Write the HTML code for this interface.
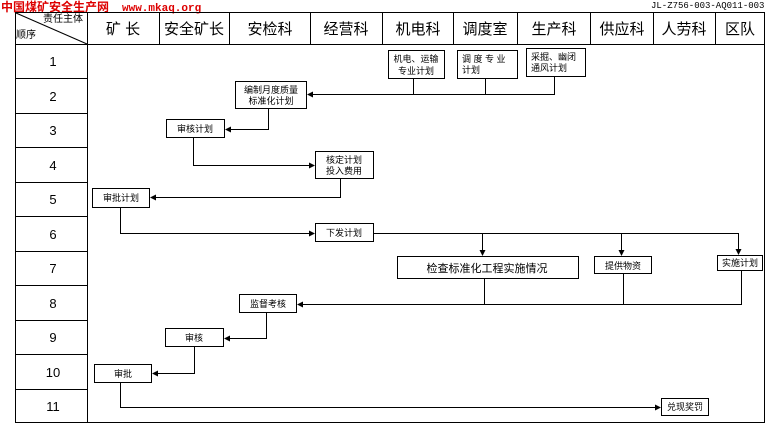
<!DOCTYPE html>
<html><head><meta charset="utf-8"><style>
body{margin:0;background:#fff;width:772px;height:428px;overflow:hidden}
svg{display:block}
text{font-family:"Liberation Sans","Noto Sans CJK SC",sans-serif;fill:#000}
.b{font-size:9px}
</style></head><body>
<svg width="772" height="428" xmlns="http://www.w3.org/2000/svg">
<defs><marker id="a" markerWidth="6" markerHeight="6" refX="5" refY="3" orient="auto" markerUnits="userSpaceOnUse"><path d="M0,0L6,3L0,6z" fill="#000"/></marker></defs>
<text x="1" y="11" style="font-size:12px;font-weight:bold;fill:#d00">中国煤矿安全生产网</text>
<text x="122" y="11" style="font-size:11px;font-weight:bold;fill:#d00;font-family:'Liberation Mono',monospace">www.mkaq.org</text>
<text x="651" y="8" style="font-size:9px;font-family:'Liberation Mono',monospace">JL-Z756-003-AQ011-003</text>
<g stroke="#000" fill="none" stroke-width="1">
<rect x="15.5" y="12.5" width="749" height="410"/>
<line x1="15" y1="44.5" x2="765" y2="44.5"/>
<line x1="87.5" y1="12" x2="87.5" y2="423"/>
<line x1="16" y1="13" x2="87" y2="44"/>
<line x1="159.5" y1="12" x2="159.5" y2="44"/><line x1="229.5" y1="12" x2="229.5" y2="44"/>
<line x1="310.5" y1="12" x2="310.5" y2="44"/><line x1="382.5" y1="12" x2="382.5" y2="44"/>
<line x1="453.5" y1="12" x2="453.5" y2="44"/><line x1="517.5" y1="12" x2="517.5" y2="44"/>
<line x1="590.5" y1="12" x2="590.5" y2="44"/><line x1="653.5" y1="12" x2="653.5" y2="44"/>
<line x1="715.5" y1="12" x2="715.5" y2="44"/>
<line x1="15" y1="78.5" x2="87" y2="78.5"/><line x1="15" y1="113.5" x2="87" y2="113.5"/>
<line x1="15" y1="147.5" x2="87" y2="147.5"/><line x1="15" y1="182.5" x2="87" y2="182.5"/>
<line x1="15" y1="216.5" x2="87" y2="216.5"/><line x1="15" y1="251.5" x2="87" y2="251.5"/>
<line x1="15" y1="285.5" x2="87" y2="285.5"/><line x1="15" y1="320.5" x2="87" y2="320.5"/>
<line x1="15" y1="354.5" x2="87" y2="354.5"/><line x1="15" y1="389.5" x2="87" y2="389.5"/>
<!-- boxes -->
<rect x="388.5" y="50.5" width="56" height="28"/>
<rect x="457.5" y="50.5" width="60" height="28"/>
<rect x="526.5" y="48.5" width="59" height="28"/>
<rect x="235.5" y="81.5" width="71" height="27"/>
<rect x="166.5" y="119.5" width="58" height="18"/>
<rect x="315.5" y="151.5" width="58" height="27"/>
<rect x="92.5" y="188.5" width="57" height="19"/>
<rect x="315.5" y="223.5" width="58" height="18"/>
<rect x="397.5" y="256.5" width="181" height="22"/>
<rect x="594.5" y="256.5" width="57" height="17"/>
<rect x="717.5" y="255.5" width="45" height="15"/>
<rect x="239.5" y="294.5" width="57" height="18"/>
<rect x="165.5" y="328.5" width="58" height="18"/>
<rect x="94.5" y="364.5" width="57" height="18"/>
<rect x="661.5" y="398.5" width="47" height="17"/>
<!-- connectors -->
<polyline points="413.5,78 413.5,94.5 554.5,94.5 554.5,76"/>
<line x1="485.5" y1="78" x2="485.5" y2="94"/>
<line x1="413" y1="94.5" x2="308" y2="94.5" marker-end="url(#a)"/>
<polyline points="268.5,108 268.5,129.5 226,129.5" marker-end="url(#a)"/>
<polyline points="193.5,137 193.5,165.5 314,165.5" marker-end="url(#a)"/>
<polyline points="340.5,178 340.5,197.5 151,197.5" marker-end="url(#a)"/>
<polyline points="120.5,207 120.5,233.5 314,233.5" marker-end="url(#a)"/>
<polyline points="373,233.5 738.5,233.5 738.5,254" marker-end="url(#a)"/>
<line x1="482.5" y1="233" x2="482.5" y2="255" marker-end="url(#a)"/>
<line x1="621.5" y1="233" x2="621.5" y2="255" marker-end="url(#a)"/>
<polyline points="484.5,278 484.5,304.5 741.5,304.5 741.5,270"/>
<line x1="623.5" y1="273" x2="623.5" y2="304"/>
<line x1="484" y1="304.5" x2="298" y2="304.5" marker-end="url(#a)"/>
<polyline points="266.5,312 266.5,338.5 225,338.5" marker-end="url(#a)"/>
<polyline points="194.5,346 194.5,373.5 153,373.5" marker-end="url(#a)"/>
<polyline points="120.5,382 120.5,407.5 660,407.5" marker-end="url(#a)"/>
</g>
<g style="font-size:15px" text-anchor="middle">
<text x="123" y="34">矿 长</text><text x="194" y="34">安全矿长</text><text x="270" y="34">安检科</text>
<text x="346" y="34">经营科</text><text x="418" y="34">机电科</text><text x="485" y="34">调度室</text>
<text x="554" y="34">生产科</text><text x="622" y="34">供应科</text><text x="684" y="34">人劳科</text>
<text x="740" y="34">区队</text>
</g>
<text x="43" y="22" style="font-size:10px">责任主体</text>
<text x="16" y="38" style="font-size:10px">顺序</text>
<g style="font-size:13px" text-anchor="middle">
<text x="53" y="66">1</text><text x="53" y="101">2</text><text x="53" y="135">3</text>
<text x="53" y="170">4</text><text x="53" y="204">5</text><text x="53" y="239">6</text>
<text x="53" y="273">7</text><text x="53" y="308">8</text><text x="53" y="342">9</text>
<text x="53" y="377">10</text><text x="53" y="411">11</text>
</g>
<g class="b" text-anchor="middle">
<text x="416" y="62">机电、运输</text><text x="416" y="74">专业计划</text>
<text x="271" y="93">编制月度质量</text><text x="271" y="104">标准化计划</text>
<text x="195" y="132">审核计划</text>
<text x="344" y="163">核定计划</text><text x="344" y="174">投入费用</text>
<text x="121" y="201">审批计划</text>
<text x="344" y="236">下发计划</text>
<text x="487" y="272" style="font-size:11px">检查标准化工程实施情况</text>
<text x="623" y="269">提供物资</text>
<text x="740" y="266">实施计划</text>
<text x="268" y="307">监督考核</text>
<text x="194" y="341">审核</text>
<text x="123" y="377">审批</text>
<text x="685" y="410">兑现奖罚</text>
</g>
<g class="b">
<text x="462" y="62">调 度 专 业</text><text x="462" y="73">计划</text>
<text x="531" y="60">采掘、幽闭</text><text x="531" y="71">通风计划</text>
</g>
</svg>
</body></html>
